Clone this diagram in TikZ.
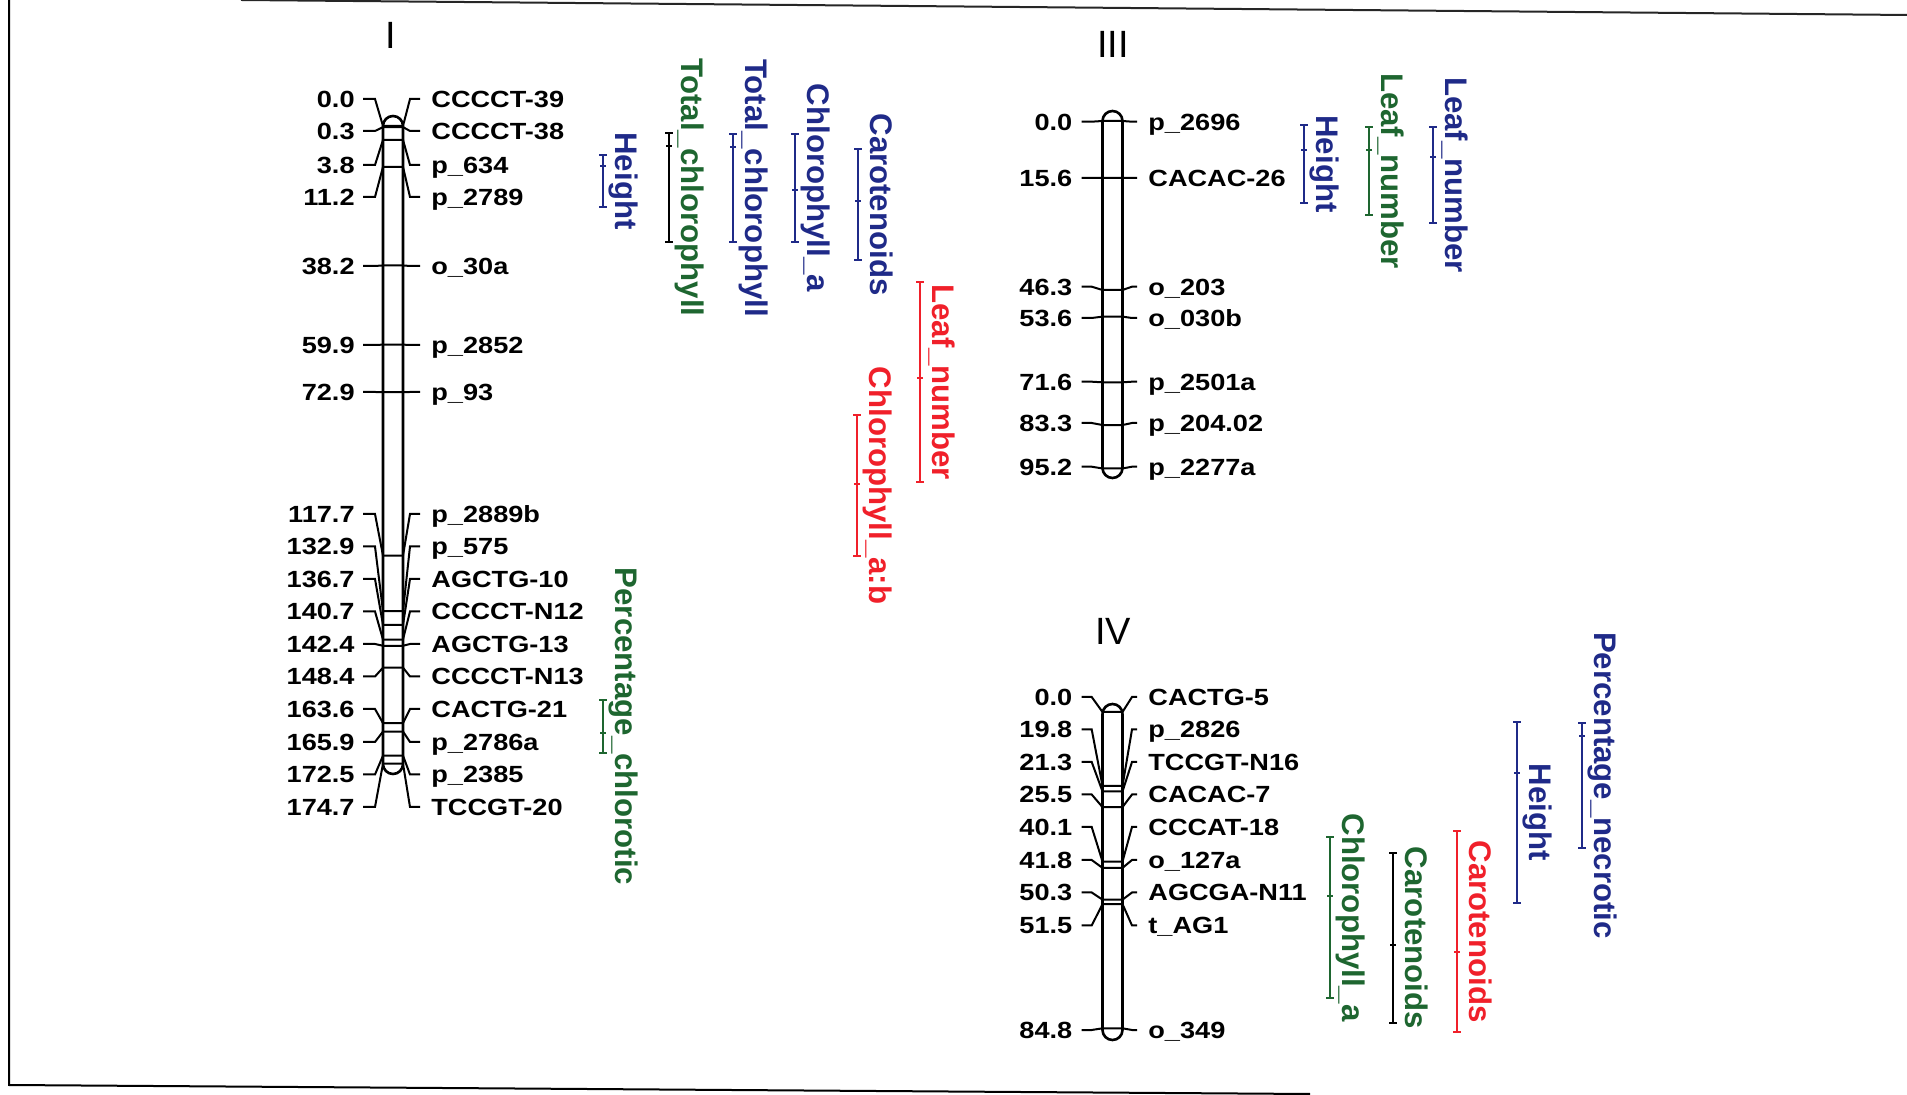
\documentclass[tikz,border=0pt]{standalone}
\usepackage{fontspec}
\newfontfamily\mapfont[FakeStretch=1.16]{Liberation Sans}
\newfontfamily\traitfont{Liberation Sans}
\usepackage{xcolor}
\definecolor{qtlblue}{HTML}{1F2A88}
\definecolor{qtlgreen}{HTML}{1E6630}
\definecolor{qtlred}{HTML}{F0202A}
\usepackage{tikz}
\usetikzlibrary{calc}

\begin{document}
\begin{tikzpicture}[x=0.5pt, y=-0.5pt,
  chrom/.style={draw, line width=1.3pt, rounded corners=5pt, minimum width=10pt, inner sep=0pt},
  mkline/.style={line width=1pt},
  cmlab/.style={font=\mapfont\bfseries\fontsize{11.7}{14}\selectfont, anchor=east,
                inner sep=0pt, text height=8.4pt, text depth=0pt},
  mklab/.style={cmlab, anchor=west},
  qtlbar/.style={line width=1pt},
  trait/.style={font=\traitfont\bfseries\fontsize{15.6}{18}\selectfont, rotate=-90,
                inner sep=0pt, text height=11.2pt, text depth=0pt},
  chrname/.style={font=\traitfont\fontsize{19}{22}\selectfont, inner sep=0pt}]

  \useasboundingbox (0,0) rectangle (1907,1095);

  % frame of the scanned figure
  \draw[line width=1pt] (9,0) -- (9,1085) -- (1310,1094);
  \draw[line width=1pt, black!85] (241,0) -- (1907,15);

  % linkage group names
  \node[chrname] (tI) at (391,35) {I};
  \node[chrname] (tIII) at (1113,44) {III};
  \node[chrname] (tIV) at (1113,631) {IV};

  % chromosomes
  \node[chrom, minimum height=329pt] (chrI) at (393,445) {};
  \node[chrom, minimum height=183.5pt] (chrIII) at (1112.5,294.5) {};
  \node[chrom, minimum height=168pt] (chrIV) at (1112.5,872) {};

  % group I markers
  \foreach \cm/\nm/\ly [count=\i] in {0.0/CCCCT-39/99, 0.3/CCCCT-38/131, 3.8/p\_634/165,
      11.2/p\_2789/197, 38.2/o\_30a/266, 59.9/p\_2852/345, 72.9/p\_93/392,
      117.7/p\_2889b/514, 132.9/p\_575/546.5, 136.7/AGCTG-10/579, 140.7/CCCCT-N12/611.5,
      142.4/AGCTG-13/644, 148.4/CCCCT-N13/676.5, 163.6/CACTG-21/709, 165.9/p\_2786a/742,
      172.5/p\_2385/774.5, 174.7/TCCGT-20/807} {
    \pgfmathsetmacro\cy{126+3.65*\cm}
    \node[cmlab] (Ia\i) at (355,\ly) {\cm};
    \node[mklab] (Ib\i) at (431,\ly) {\nm};
    \coordinate (Il\i) at (383,\cy);
    \coordinate (Ir\i) at (403,\cy);
    \draw[mkline] (Ia\i.east) ++(8,0) -- ++(12,0) -- (Il\i) -- (Ir\i)
      -- ($(Ib\i.west)+(-21,0)$) -- ++(10,0);
  }

  % group III markers
  \foreach \cm/\nm/\ly [count=\i] in {0.0/p\_2696/121.7, 15.6/CACAC-26/178, 46.3/o\_203/286.7,
      53.6/o\_030b/318, 71.6/p\_2501a/381.7, 83.3/p\_204.02/423, 95.2/p\_2277a/466.7} {
    \pgfmathsetmacro\cy{121+3.65*\cm}
    \node[cmlab] (IIIa\i) at (1072.7,\ly) {\cm};
    \node[mklab] (IIIb\i) at (1148,\ly) {\nm};
    \coordinate (IIIl\i) at (1102.5,\cy);
    \coordinate (IIIr\i) at (1122.5,\cy);
    \draw[mkline] (IIIa\i.east) ++(9,0) -- ++(10,0) -- (IIIl\i) -- (IIIr\i)
      -- ($(IIIb\i.west)+(-16,0)$) -- ++(5,0);
  }

  % group IV markers
  \foreach \cm/\nm/\ly [count=\i] in {0.0/CACTG-5/697, 19.8/p\_2826/729.5,
      21.3/TCCGT-N16/762, 25.5/CACAC-7/794.5, 40.1/CCCAT-18/827,
      41.8/o\_127a/860, 50.3/AGCGA-N11/892.5, 51.5/t\_AG1/925.5,
      84.8/o\_349/1030} {
    \pgfmathsetmacro\cy{712+3.73*\cm}
    \node[cmlab] (IVa\i) at (1072.7,\ly) {\cm};
    \node[mklab] (IVb\i) at (1148,\ly) {\nm};
    \coordinate (IVl\i) at (1102.5,\cy);
    \coordinate (IVr\i) at (1122.5,\cy);
    \draw[mkline] (IVa\i.east) ++(9,0) -- ++(10,0) -- (IVl\i) -- (IVr\i)
      -- ($(IVb\i.west)+(-16,0)$) -- ++(5,0);
  }

  % QTL intervals: x / top / bottom / peak / bar colour / text colour / trait
  \foreach \x/\top/\bot/\pk/\bc/\tc/\txt [count=\i] in {
      603/155/207/166/qtlblue/qtlblue/Height,
      669/133/242/146/black/qtlgreen/Total\_chlorophyll,
      733/134/242/147/qtlblue/qtlblue/Total\_chlorophyll,
      795/134/242/190/qtlblue/qtlblue/Chlorophyll\_a,
      858/149/260/201/qtlblue/qtlblue/Carotenoids,
      920/282/482/378/qtlred/qtlred/Leaf\_number,
      857/415/556/484/qtlred/qtlred/Chlorophyll\_a:b,
      603/700/753/733/qtlgreen/qtlgreen/Percentage\_chlorotic,
      1304/125/203/150/qtlblue/qtlblue/Height,
      1369/127/215/150/qtlgreen/qtlgreen/Leaf\_number,
      1433/127/223/157/qtlblue/qtlblue/Leaf\_number,
      1330/837/998/896/qtlgreen/qtlgreen/Chlorophyll\_a,
      1393/853/1023/945/black/qtlgreen/Carotenoids,
      1457/831/1032/952/qtlred/qtlred/Carotenoids,
      1517/722/903/773/qtlblue/qtlblue/Height,
      1582/723/848/736/qtlblue/qtlblue/Percentage\_necrotic} {
    \draw[qtlbar, \bc] (\x,\top) -- (\x,\bot);
    \draw[qtlbar, \bc] (\x-4,\top) -- (\x+4,\top);
    \draw[qtlbar, \bc] (\x-4,\bot) -- (\x+4,\bot);
    \draw[qtlbar, \bc] (\x-3,\pk) -- (\x+3,\pk);
    \node[trait, text=\tc] (q\i) at (\x+24,{(\top+\bot)/2}) {\txt};
  }

\end{tikzpicture}
\end{document}
